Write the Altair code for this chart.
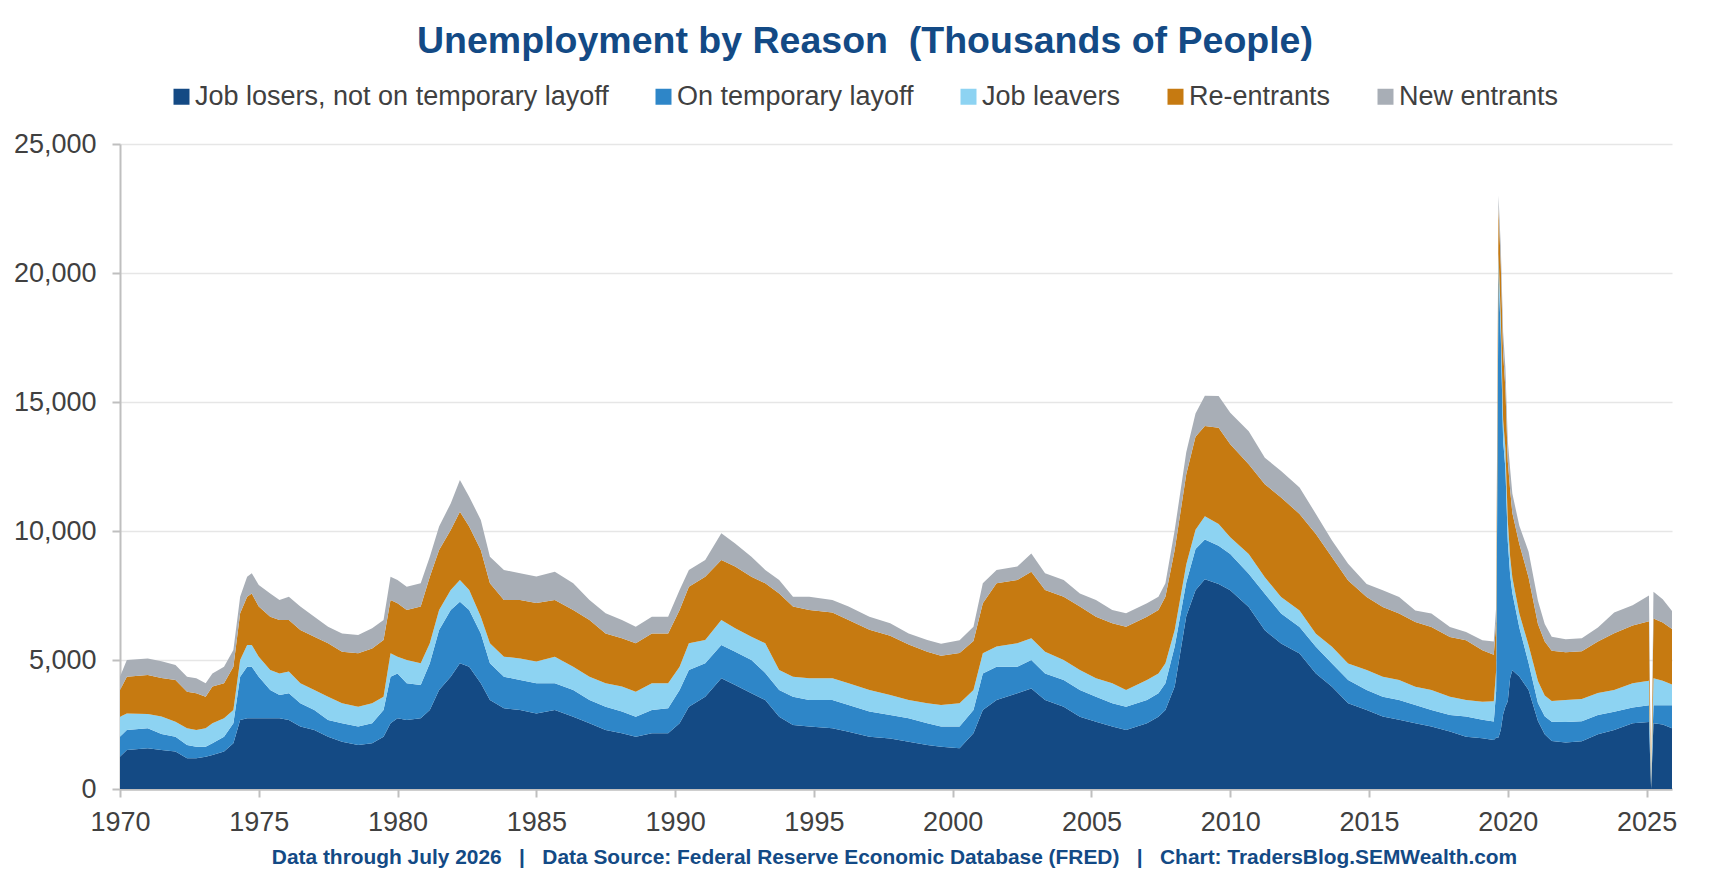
import altair as alt
import pandas as pd

# month the values are plotted at
dates = [
    "1970-01", "1970-04", "1971-01", "1971-07", "1972-01", "1972-06", "1972-10", "1973-02",
    "1973-05", "1973-10", "1974-02", "1974-05", "1974-08", "1974-10", "1975-01", "1975-06",
    "1975-10", "1976-02", "1976-07", "1977-01", "1977-07", "1978-01", "1978-08", "1979-02",
    "1979-07", "1979-10", "1980-01", "1980-05", "1980-11", "1981-03", "1981-07", "1981-12",
    "1982-04", "1982-08", "1983-01", "1983-05", "1983-11", "1984-06", "1985-01", "1985-09",
    "1986-05", "1986-12", "1987-07", "1988-02", "1988-08", "1989-03", "1989-10", "1990-03",
    "1990-07", "1991-02", "1991-09", "1992-03", "1992-10", "1993-04", "1993-10", "1994-04",
    "1994-11", "1995-09", "1996-04", "1997-01", "1997-10", "1998-06", "1999-02", "1999-08",
    "2000-04", "2000-10", "2001-02", "2001-08", "2002-05", "2002-11", "2003-05", "2004-01",
    "2004-08", "2005-03", "2005-10", "2006-04", "2007-01", "2007-06", "2007-09", "2008-01",
    "2008-06", "2008-10", "2009-02", "2009-08", "2010-01", "2010-09", "2011-04", "2011-11",
    "2012-07", "2013-02", "2013-09", "2014-04", "2014-12", "2015-07", "2016-02", "2016-09",
    "2017-04", "2017-12", "2018-07", "2019-02", "2019-07", "2019-08", "2019-09", "2019-10",
    "2019-11", "2019-12", "2020-01", "2020-02", "2020-03", "2020-06", "2020-10", "2021-02",
    "2021-05", "2021-08", "2022-02", "2022-09", "2023-04", "2023-11", "2024-07", "2025-02",
    "2025-03", "2025-04", "2025-08", "2025-12",
]

job_losers = [
    1250, 1510, 1580, 1510, 1450, 1190, 1190, 1250,
    1320, 1450, 1770, 2670, 2740, 2740, 2740, 2740,
    2740, 2670, 2420, 2290, 2030, 1830, 1710, 1770,
    2030, 2550, 2740, 2670, 2740, 3060, 3840, 4350,
    4870, 4740, 4100, 3450, 3130, 3060, 2930, 3060,
    2800, 2550, 2290, 2160, 2030, 2160, 2160, 2550,
    3190, 3580, 4290, 4030, 3710, 3450, 2800, 2480,
    2420, 2350, 2220, 2030, 1960, 1830, 1710, 1640,
    1580, 2160, 3060, 3450, 3710, 3900, 3450, 3190,
    2800, 2610, 2420, 2290, 2550, 2800, 3060, 3970,
    6700, 7700, 8130, 7950, 7700, 7050, 6150, 5640,
    5250, 4480, 3960, 3320, 3060, 2810, 2680, 2550,
    2420, 2230, 2030, 1970, 1900, 2000, 2000, 2300,
    2900, 3200, 3400, 4300, 4600, 4360, 3840, 2640,
    2120, 1860, 1800, 1850, 2120, 2290, 2550, 2600,
    0, 2550, 2500, 2350,
]

temp_layoff = [
    780, 780, 770, 620, 580, 520, 450, 390,
    450, 580, 780, 1680, 2000, 2000, 1610, 1100,
    900, 1040, 900, 770, 640, 720, 710, 780,
    1030, 1800, 1740, 1430, 1290, 1810, 2320, 2590,
    2390, 2200, 1930, 1420, 1220, 1160, 1170, 1040,
    1040, 900, 900, 840, 770, 900, 970, 1290,
    1420, 1290, 1290, 1290, 1290, 1050, 1040, 1100,
    1030, 1100, 1040, 970, 910, 910, 840, 780,
    840, 900, 1420, 1290, 1030, 1100, 1030, 1030,
    1040, 970, 900, 900, 900, 910, 1040, 1550,
    1300, 1600, 1540, 1480, 1410, 1290, 1420, 1160,
    1030, 1030, 900, 900, 780, 770, 770, 710,
    640, 640, 780, 710, 720, 1800, 18100, 15300,
    10600, 9200, 6200, 4000, 3000, 1900, 1040, 690,
    700, 750, 800, 780, 750, 700, 610, 650,
    0, 700, 750, 900,
]

job_leavers = [
    770, 640, 560, 680, 580, 640, 650, 710,
    780, 710, 510, 650, 840, 840, 780, 770,
    840, 840, 780, 780, 910, 770, 770, 770,
    520, 910, 650, 900, 840, 780, 780, 770,
    840, 770, 650, 780, 780, 840, 840, 1030,
    900, 900, 910, 970, 970, 1040, 970, 900,
    1040, 910, 970, 910, 900, 1150, 770, 770,
    840, 840, 840, 840, 770, 710, 770, 840,
    900, 780, 780, 780, 910, 840, 840, 780,
    770, 710, 780, 650, 770, 770, 770, 640,
    700, 750, 900, 840, 650, 770, 640, 640,
    640, 510, 650, 640, 770, 770, 770, 700,
    780, 710, 640, 700, 780, 800, 650, 700,
    800, 800, 800, 700, 600, 540, 690, 860,
    800, 800, 850, 860, 850, 850, 940, 950,
    0, 1040, 950, 800,
]

re_entrants = [
    1040, 1420, 1510, 1490, 1610, 1420, 1420, 1230,
    1420, 1360, 1680, 1810, 1870, 2000, 1940, 2070,
    2070, 2000, 2060, 2060, 2070, 2000, 2070, 2130,
    2200, 2070, 2070, 1940, 2200, 2580, 2320, 2330,
    2650, 2460, 2580, 2320, 2200, 2270, 2270, 2200,
    2200, 2200, 1930, 1870, 1880, 1930, 1930, 2200,
    2190, 2450, 2330, 2390, 2330, 2320, 2970, 2720,
    2650, 2550, 2450, 2330, 2300, 2150, 2000, 1900,
    1950, 1900, 1940, 2450, 2450, 2580, 2390, 2450,
    2460, 2390, 2320, 2450, 2460, 2460, 2580, 3100,
    3500, 3600, 3500, 3730, 3600, 3480, 3600, 3860,
    3740, 3860, 3470, 3220, 2830, 2700, 2580, 2510,
    2440, 2310, 2320, 2000, 1800, 1900, 1750, 2000,
    2600, 2300, 2300, 2600, 2500, 2700, 2630, 2210,
    2100, 1950, 1850, 1850, 2000, 2200, 2240, 2300,
    0, 2320, 2250, 2150,
]

new_entrants = [
    510, 650, 640, 650, 590, 580, 580, 520,
    510, 640, 650, 640, 780, 780, 840, 900,
    780, 900, 910, 780, 640, 710, 710, 780,
    770, 900, 900, 900, 900, 770, 910, 1030,
    1230, 1160, 1170, 1030, 1160, 1030, 1030, 1090,
    1030, 780, 780, 710, 640, 650, 650, 770,
    650, 650, 1030, 900, 770, 520, 520, 380,
    510, 490, 520, 510, 480, 430, 460, 470,
    500, 550, 770, 520, 520, 710, 650, 650,
    510, 650, 520, 520, 520, 510, 520, 780,
    850, 900, 1170, 1230, 1220, 1280, 1030, 1030,
    1030, 780, 650, 650, 510, 650, 640, 450,
    520, 390, 320, 390, 520, 550, 500, 700,
    800, 800, 800, 800, 750, 700, 1000, 900,
    680, 540, 500, 500, 540, 800, 780, 1000,
    0, 1040, 900, 700,
]

reasons = [
    "Job losers, not on temporary layoff",
    "On temporary layoff",
    "Job leavers",
    "Re-entrants",
    "New entrants",
]
colors = ["#144a84", "#2e86c8", "#8dd3f2", "#c67a11", "#a8aeb6"]

values = [job_losers, temp_layoff, job_leavers, re_entrants, new_entrants]
for v in values:
    assert len(v) == len(dates)

rows = []
for k, (reason, vals) in enumerate(zip(reasons, values)):
    for d, v in zip(dates, vals):
        rows.append({"date": d + "-01", "reason": reason, "k": k, "value": v})
df = pd.DataFrame(rows)

blue = "#134a85"
font = "Liberation Sans"
nb = "\u00a0"
sep = nb * 3 + "|" + nb * 3
footer = ("Data through July 2026" + sep + "Data Source: Federal Reserve Economic "
          "Database (FRED)" + sep + "Chart: TradersBlog.SEMWealth.com")

chart = alt.Chart(
    df,
    title=alt.Title(
        "Unemployment by Reason" + nb * 2 + "(Thousands of People)",
        font=font, fontSize=37.5, fontWeight="bold", color=blue,
        anchor="middle", dx=-31, offset=23,
    ),
).mark_area(interpolate="linear").encode(
    x=alt.X(
        "date:T",
        title=footer,
        scale=alt.Scale(
            type="utc",
            domain=[alt.DateTime(year=1970, month=1, date=1, utc=True),
                    alt.DateTime(year=2025, month=12, date=1, utc=True)],
        ),
        axis=alt.Axis(
            format="%Y", tickCount={"interval": "year", "step": 5},
            labelFlush=False, labelFontSize=27, labelColor="#404040",
            labelPadding=12, tickSize=8, tickWidth=2, tickColor="#bfbfbf",
            domainColor="#bfbfbf", domainWidth=2.5, grid=False,
            titleFontSize=20.9, titleFontWeight="bold", titleColor=blue,
            titleX=774, titleY=68, titleBaseline="middle", titleAlign="center",
        ),
    ),
    y=alt.Y(
        "value:Q",
        stack="zero",
        title=None,
        scale=alt.Scale(domain=[0, 25000]),
        axis=alt.Axis(
            values=[0, 5000, 10000, 15000, 20000, 25000], format=",.0f",
            labelFontSize=27, labelColor="#404040", labelPadding=16,
            tickSize=8, tickWidth=2, tickColor="#bfbfbf",
            domainColor="#bfbfbf", domainWidth=2,
            gridColor="#e6e6e6", gridWidth=1.5,
        ),
    ),
    color=alt.Color(
        "reason:N",
        scale=alt.Scale(domain=reasons, range=colors),
        legend=alt.Legend(
            orient="none", legendX=48, legendY=-61, direction="horizontal",
            title=None, symbolType="square", symbolSize=256,
            symbolStrokeWidth=0, symbolOpacity=1,
            labelFontSize=27, labelColor="#404040", labelLimit=700,
            labelOffset=0, columnPadding=41,
        ),
    ),
    order=alt.Order("k:Q", sort="ascending"),
).properties(
    width=1552,
    height=645,
    autosize="none",
    padding={"left": 112, "top": 136, "right": 45, "bottom": 95},
).configure(
    font=font,
).configure_view(
    stroke=None,
)

chart.save("out.html", embed_options={"renderer": "svg", "actions": False})
